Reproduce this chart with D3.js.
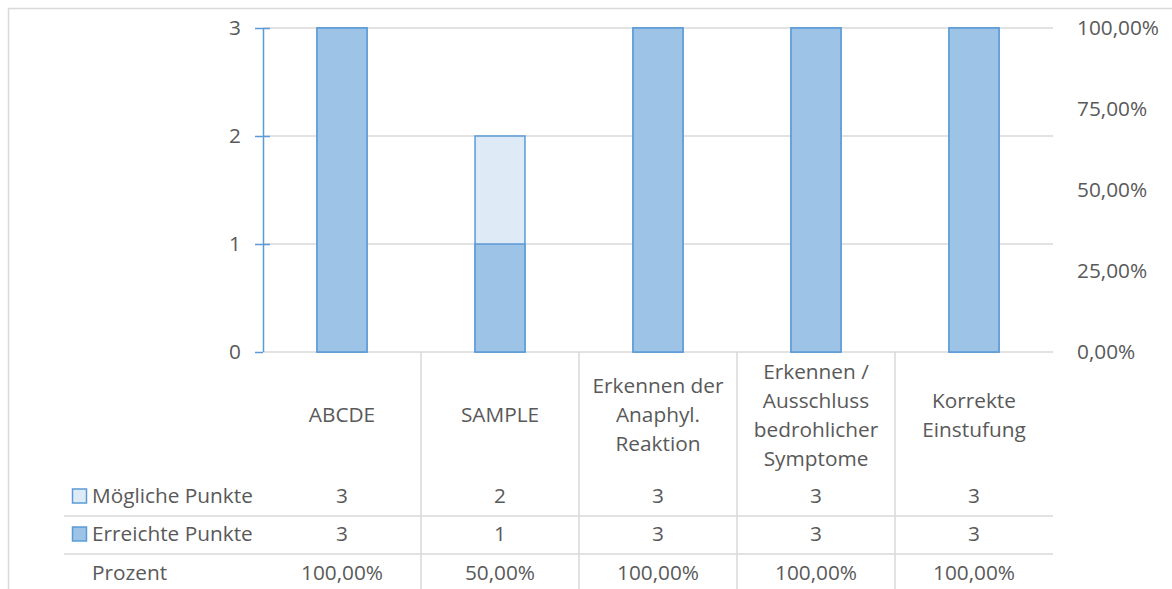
<!DOCTYPE html>
<html>
<head>
<meta charset="utf-8">
<script src="https://cdn.jsdelivr.net/npm/d3@7"></script>
<style>
  html, body { margin: 0; padding: 0; background: #fff; }
  svg { display: block; }
  text { font-family: "Open Sans", "Noto Sans", sans-serif; fill: #595959; }
</style>
</head>
<body>
<svg id="chart" width="1172" height="589"></svg>
<script>
// Kategorien (mehrzeilige Beschriftung)
const categories = [
  ["ABCDE"],
  ["SAMPLE"],
  ["Erkennen der", "Anaphyl.", "Reaktion"],
  ["Erkennen /", "Ausschluss", "bedrohlicher", "Symptome"],
  ["Korrekte", "Einstufung"]
];
const moeglichePunkte = [3, 2, 3, 3, 3];
const erreichtePunkte = [3, 1, 3, 3, 3];
const prozent = [1, 0.5, 1, 1, 1];
const leftTicks = [0, 1, 2, 3];
const rightTicks = [0, 0.25, 0.5, 0.75, 1];
const seriesNames = ["Mögliche Punkte", "Erreichte Punkte", "Prozent"];

const de = d3.formatLocale({ decimal: ",", thousands: ".", grouping: [3], currency: ["", " €"] });
const fmtPct = de.format(".2%");

const svg = d3.select("#chart");
const FS = 20.8;
const gridColor = "#d9d9d9";
const axisBlue = "#5b9bd5";
const fillDark = "#9dc3e6";
const fillLight = "#deebf7";

const plot = { left: 263, right: 1053, top: 28, bottom: 352 };

const x = d3.scaleBand()
  .domain(d3.range(categories.length))
  .range([plot.left, plot.right])
  .paddingInner(0).paddingOuter(0);
const y = d3.scaleLinear().domain([0, 3]).range([plot.bottom, plot.top]);
const y2 = d3.scaleLinear().domain([0, 1]).range([plot.bottom, plot.top]);
const barW = x.bandwidth() * 0.316;

// Diagrammrahmen
svg.append("path")
  .attr("d", "M8.5,600 V8.5 H1180")
  .attr("fill", "none").attr("stroke", gridColor).attr("stroke-width", 1.5);

// Gitternetzlinien
svg.append("g").selectAll("line").data(leftTicks).join("line")
  .attr("x1", plot.left).attr("x2", plot.right)
  .attr("y1", d => y(d)).attr("y2", d => y(d))
  .attr("stroke", gridColor).attr("stroke-width", 1.5);

// Balken: mögliche Punkte hinten, erreichte Punkte davor (überlappend)
function bars(values, fill) {
  svg.append("g").selectAll("rect").data(values).join("rect")
    .attr("x", (d, i) => x(i) + (x.bandwidth() - barW) / 2)
    .attr("y", d => y(d))
    .attr("width", barW)
    .attr("height", d => y(0) - y(d))
    .attr("fill", fill)
    .attr("stroke", axisBlue).attr("stroke-width", 1.5);
}
bars(moeglichePunkte, fillLight);
bars(erreichtePunkte, fillDark);

// Primärachse links
const yAxis = d3.axisLeft(y).tickValues(leftTicks).tickFormat(d3.format("d"))
  .tickSizeInner(8).tickSizeOuter(0).tickPadding(14);
const gy = svg.append("g").attr("transform", `translate(${plot.left},0)`).call(yAxis);
gy.select(".domain").attr("stroke", axisBlue).attr("stroke-width", 1.5)
  .attr("d", `M0.5,${plot.top}V${plot.bottom}`);
gy.selectAll(".tick line").attr("stroke", axisBlue).attr("stroke-width", 1.5)
  .attr("x1", d => d === 0 ? 0 : 7);
gy.selectAll(".tick text").attr("font-size", FS).attr("fill", "#595959")
  .attr("font-family", '"Open Sans", sans-serif');

// Sekundärachse rechts (Prozent)
const y2Axis = d3.axisRight(y2).tickValues(rightTicks).tickFormat(fmtPct)
  .tickSize(0).tickPadding(24);
const gy2 = svg.append("g").attr("transform", `translate(${plot.right},0)`).call(y2Axis);
gy2.select(".domain").remove();
gy2.selectAll(".tick text").attr("font-size", FS).attr("fill", "#595959")
  .attr("font-family", '"Open Sans", sans-serif');

// Datentabelle
const table = svg.append("g");
const rowY = [496, 534, 573];
const rowLines = [516, 554];
const tableLeft = 64;

// Spaltentrenner
table.selectAll("line.col").data(d3.range(1, categories.length)).join("line")
  .attr("class", "col")
  .attr("x1", d => x(d)).attr("x2", d => x(d))
  .attr("y1", plot.bottom).attr("y2", 589)
  .attr("stroke", gridColor).attr("stroke-width", 1.5);

// Zeilentrenner
table.selectAll("line.row").data(rowLines).join("line")
  .attr("class", "row")
  .attr("x1", tableLeft).attr("x2", plot.right)
  .attr("y1", d => d).attr("y2", d => d)
  .attr("stroke", gridColor).attr("stroke-width", 1.5);

// Kategoriebeschriftungen
const lineH = 29;
const catG = table.selectAll("text.cat").data(categories).join("text")
  .attr("class", "cat")
  .attr("text-anchor", "middle")
  .attr("font-size", FS);
catG.each(function (lines, i) {
  const t = d3.select(this);
  const cx = x(i) + x.bandwidth() / 2;
  const y0 = 415 - (lines.length - 1) * lineH / 2;
  lines.forEach((ln, k) => {
    t.append("tspan").attr("x", cx).attr("y", y0 + k * lineH)
      .attr("dy", "0.35em").text(ln);
  });
});

// Zeilen mit Werten
const rows = [
  { name: seriesNames[0], values: moeglichePunkte.map(String), fill: fillLight },
  { name: seriesNames[1], values: erreichtePunkte.map(String), fill: fillDark },
  { name: seriesNames[2], values: prozent.map(fmtPct), fill: null }
];
rows.forEach((r, ri) => {
  const cy = rowY[ri];
  if (r.fill) {
    table.append("rect")
      .attr("x", 72.5).attr("y", cy - 7).attr("width", 14).attr("height", 14)
      .attr("fill", r.fill).attr("stroke", axisBlue).attr("stroke-width", 1.5);
  }
  table.append("text").attr("x", 92).attr("y", cy).attr("dy", "0.35em")
    .attr("font-size", FS).text(r.name);
  table.selectAll(null).data(r.values).join("text")
    .attr("x", (d, i) => x(i) + x.bandwidth() / 2)
    .attr("y", cy).attr("dy", "0.35em")
    .attr("text-anchor", "middle").attr("font-size", FS)
    .text(d => d);
});
</script>
</body>
</html>
